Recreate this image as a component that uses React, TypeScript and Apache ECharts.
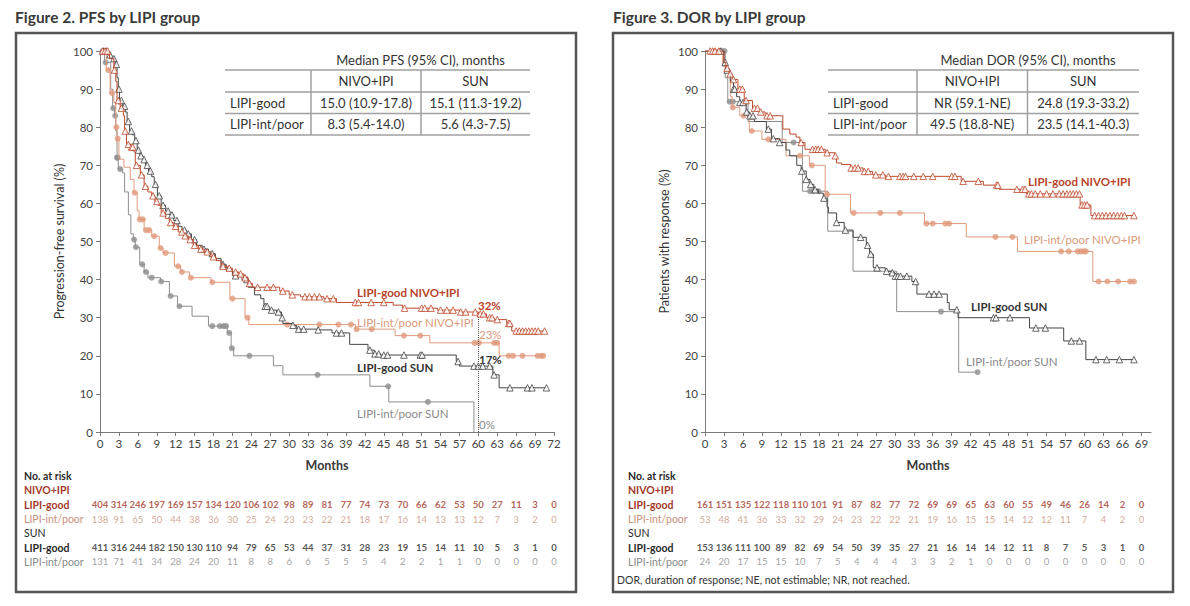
import React, { useEffect, useRef } from "react";
import * as echarts from "echarts";

const FONT = 'Lato, "Noto Sans", sans-serif';
const RED = "#bd4a2d";
const SALMON = "#e09a7c";
const DARK = "#454545";
const GRAY = "#8e8e8e";

// ---------- Figure 2: PFS ----------
const pfsMonths = [0, 3, 6, 9, 12, 15, 18, 21, 24, 27, 30, 33, 36, 39, 42, 45, 48, 51, 54, 57, 60, 63, 66, 69, 72];

const pfsGoodNivo: number[][] = [
  [0, 100], [1.5, 98], [2.2, 95], [2.5, 92], [2.7, 87], [3.2, 85], [3.7, 83], [3.9, 79], [4.2, 75.5], [4.9, 74.8],
  [5.4, 73.5], [5.6, 70], [6.4, 67.5], [7, 64.5], [7.6, 63], [8.2, 62], [8.7, 60.5], [9.2, 59.5], [9.7, 57.5],
  [10.4, 56], [11, 55], [11.6, 54], [12.4, 52.5], [13.2, 51.5], [14, 50.5], [14.8, 49], [15.6, 48], [16.6, 47.3],
  [17.6, 46], [18.4, 45], [19.2, 43.5], [20.2, 43], [21, 42], [22, 41.5], [22.8, 40.5], [23.5, 39], [24.2, 38],
  [28.5, 37], [30, 36], [31.8, 35.5], [35.5, 35], [37.5, 34], [46.5, 33.3], [48, 32.5], [53.5, 32], [57, 31.5],
  [60, 31], [61.3, 30], [62.5, 29.5], [64.5, 28.5], [65.3, 26.5], [70.5, 26.5],
];
const pfsGoodNivoCens = [
  0.4, 0.8, 1.2, 2.3, 2.9, 3.4, 4.0, 4.5, 5.0, 5.2, 5.8, 6.6, 7.2, 8.4, 9.0, 10.0, 11.2, 12.0, 13.0, 13.5, 14.3,
  15.0, 16.0, 17.0, 18.0, 19.5, 20.5, 21.5, 22.3, 23.0, 23.7, 25.0, 26.5, 27.5, 29.0, 30.5, 32.5, 33.2, 34.0, 34.8,
  36.0, 37.0, 40.5, 41.0, 43.0, 45.0, 48.3, 51.0, 51.5, 52.5, 54.0, 55.0, 56.0, 57.2, 58.0, 59.5, 60.3, 60.8, 61.8,
  62.2, 63.0, 64.8, 65.0, 66.0, 66.5, 67.0, 67.5, 68.0, 68.5, 69.0, 69.5, 70.5,
];

const pfsGoodSun: number[][] = [
  [0, 100], [1.2, 99], [1.8, 98], [2.4, 96.5], [2.7, 93], [2.9, 90], [3.1, 87], [3.6, 85.5], [4, 84], [4.3, 81.5],
  [4.7, 79], [5.1, 78], [5.5, 76.5], [5.9, 74], [6.3, 72.5], [6.8, 71.5], [7.2, 70], [7.7, 68.5], [8.2, 67], [8.6, 65],
  [9.1, 62], [9.7, 59.5], [10.4, 58], [11, 57], [11.7, 55.5], [12.4, 54], [13, 53], [13.7, 52], [14.5, 50.5],
  [15.3, 49], [16.2, 48], [17.2, 46.8], [18.3, 45.5], [19.2, 44], [20, 42.5], [21, 41], [22.5, 40], [23.5, 38],
  [24.5, 36], [25.5, 35], [26, 33], [26.8, 32], [28, 31.5], [28.8, 30], [29, 28.5], [30.5, 28], [31.2, 27],
  [34.5, 26.8], [36.8, 26], [39.6, 23], [42.5, 21.5], [43.5, 20.5], [44.5, 20.2], [56.5, 18.5], [57, 17.3],
  [62.3, 15], [63.3, 11.6], [70.8, 11.6],
];
const pfsGoodSunCens = [
  0.5, 1.0, 1.6, 2.2, 2.6, 3.0, 3.4, 3.9, 4.5, 5.0, 5.7, 6.1, 6.5, 7.0, 7.5, 8.0, 8.8, 9.4, 10.0, 10.8, 11.4, 12.2,
  13.4, 14.0, 15.0, 16.5, 17.8, 19.5, 21.5, 23.3, 26.2, 26.5, 27.2, 28.3, 28.9, 30.6, 31.5, 32.3, 34.6, 37.5, 38.3,
  42.8, 43.6, 44.2, 45.0, 45.6, 48.2, 50.8, 51.1, 56.8, 59.3, 60.0, 60.7, 61.8, 62.5, 65.0, 67.8, 68.5, 70.8,
];

const pfsPoorNivo: number[][] = [
  [0, 100], [1, 95], [1.6, 89], [2.2, 86.5], [2.5, 80], [2.7, 77], [3, 71.6], [3.8, 69.5], [4.8, 66.3], [5.4, 62.8],
  [5.9, 58], [6.2, 55.8], [7, 53], [8.2, 51.4], [9.4, 48.3], [10, 47], [11.8, 43.5], [12.8, 42], [14.2, 40.5],
  [17.6, 39.3], [20.6, 35], [23, 30], [23.6, 28.2], [40.5, 27], [46.8, 25.3], [52.3, 23.4], [63.3, 20], [70.3, 20],
];
const pfsPoorNivoCens = [
  0.6, 1.3, 1.9, 2.6, 2.8, 5.5, 6.3, 6.8, 7.3, 7.8, 8.6, 9.6, 10.4, 12.4, 13.0, 14.4, 17.8, 21.0, 23.4, 29.7, 34.8,
  37.8, 39.8, 40.7, 43.1, 48.2, 50.8, 59.4, 60.1, 62.5, 63.0, 64.8, 65.5, 67.0, 69.4, 70.0, 70.3,
];

const pfsPoorSun: number[][] = [
  [0, 100], [0.7, 97], [1.7, 90], [2, 85], [2.3, 83], [2.5, 79], [2.7, 72], [2.9, 69], [3.6, 68], [3.9, 63],
  [4.5, 57], [4.9, 52], [5.3, 50.5], [5.6, 48.5], [6.3, 44], [7, 42], [7.6, 40.5], [9.6, 39.5], [11, 35.7],
  [12.3, 33], [14.6, 30.4], [17.2, 27.8], [20.2, 26], [20.8, 22], [21.2, 20], [27.5, 17.4], [29, 15], [42.8, 12],
  [45.8, 7.9], [59.3, 0],
];
const pfsPoorSunCens = [
  0.4, 0.9, 2.1, 2.4, 2.7, 2.8, 3.2, 5.4, 5.7, 6.7, 7.3, 8.2, 9.7, 11.2, 12.6, 17.8, 19.0, 19.6, 20.0, 20.5, 20.9,
  23.7, 34.5, 45.7, 52.0,
];

const pfsLandmark = [60, 31.5];

const pfsRiskGoodNivo = [404, 314, 246, 197, 169, 157, 134, 120, 106, 102, 98, 89, 81, 77, 74, 73, 70, 66, 62, 53, 50, 27, 11, 3, 0];
const pfsRiskPoorNivo = [138, 91, 65, 50, 44, 38, 36, 30, 25, 24, 23, 23, 22, 21, 18, 17, 16, 14, 13, 13, 12, 7, 3, 2, 0];
const pfsRiskGoodSun = [411, 316, 244, 182, 150, 130, 110, 94, 79, 65, 53, 44, 37, 31, 28, 23, 19, 15, 14, 11, 10, 5, 3, 1, 0];
const pfsRiskPoorSun = [131, 71, 41, 34, 28, 24, 20, 11, 8, 8, 6, 6, 5, 5, 5, 4, 2, 2, 1, 1, 0, 0, 0, 0, 0];

const pfsTableHead = ["Median PFS (95% CI), months", "NIVO+IPI", "SUN"];
const pfsTableRows = [
  ["LIPI-good", "15.0 (10.9-17.8)", "15.1 (11.3-19.2)"],
  ["LIPI-int/poor", "8.3 (5.4-14.0)", "5.6 (4.3-7.5)"],
];

// ---------- Figure 3: DOR ----------
const dorMonths = [0, 3, 6, 9, 12, 15, 18, 21, 24, 27, 30, 33, 36, 39, 42, 45, 48, 51, 54, 57, 60, 63, 66, 69];

const dorGoodNivo: number[][] = [
  [0, 100], [3, 97], [3.3, 95.5], [3.8, 94], [4.3, 92.5], [5.2, 90], [6.2, 87], [7.5, 85], [8.5, 84], [9.5, 83],
  [12.3, 79.5], [13.4, 78.2], [14.4, 77.4], [15, 76], [15.8, 74.2], [19, 73.3], [20.5, 72.5], [20.8, 70.6],
  [21.6, 70.2], [23, 69.3], [25, 68.4], [26.5, 67.5], [28.5, 67.1], [40.5, 65.8], [44, 64.8], [46.5, 63.7],
  [50.8, 62.5], [59.3, 59.6], [61, 56.8], [67.8, 56.8],
];
const dorGoodNivoCens = [
  0.8, 1.2, 1.6, 2.2, 3.5, 4.0, 4.5, 5.5, 5.9, 6.5, 7.8, 8.3, 8.8, 9.8, 10.3, 15.2, 17.0, 17.5, 17.9, 18.4, 19.3,
  20.6, 23.1, 23.7, 24.2, 25.2, 25.8, 27.0, 28.1, 29.0, 30.8, 31.3, 31.7, 33.0, 34.5, 36.0, 39.0, 39.5, 40.8, 43.2,
  46.1, 46.3, 49.3, 50.2, 50.6, 51.2, 51.6, 52.2, 53.0, 54.0, 55.0, 56.0, 56.6, 57.2, 57.7, 58.2, 58.7, 59.2, 59.6,
  60.0, 60.4, 61.6, 62.2, 62.8, 63.4, 64.0, 64.6, 65.2, 65.8, 66.3, 67.8,
];

const dorPoorNivo: number[][] = [
  [0, 100], [2.8, 96], [3.2, 94.5], [4, 88], [4.3, 85.2], [5.5, 83], [7, 79], [9, 76.8], [12.8, 72.5], [16.5, 70],
  [19, 62.4], [23, 57.5], [34.7, 54.7], [41.3, 51.2], [49.4, 47.4], [61.3, 39.5], [67.9, 39.5],
];
const dorPoorNivoCens = [
  1.5, 4.4, 6.1, 7.4, 10.0, 15.0, 16.9, 19.3, 23.5, 27.7, 30.8, 35.0, 36.0, 38.0, 38.6, 45.9, 48.6, 56.3, 57.5,
  58.9, 59.4, 59.9, 60.2, 62.2, 63.6, 65.3, 67.2, 67.8,
];

const dorGoodSun: number[][] = [
  [0, 100], [3, 97], [3.3, 95], [4, 92], [4.5, 90], [5, 88], [5.5, 86.5], [6.5, 84], [7, 83], [7.8, 81.5],
  [9.7, 79.5], [10.5, 77], [11.8, 76], [12.8, 74], [13.4, 72.5], [14.5, 70], [15.2, 68.5], [16, 66.3], [16.6, 65],
  [17.2, 63.6], [17.9, 62.7], [18.7, 61.4], [19.3, 59], [19.5, 57.5], [20.8, 55], [22, 53], [23.4, 51.1],
  [25.5, 49], [26, 46.7], [26.6, 43.1], [28.5, 42.2], [29.5, 41.8], [30, 40.9], [32.7, 39.5], [33.5, 36.2],
  [38.3, 34], [38.6, 32.1], [40, 30], [51.3, 27.3], [56.7, 23.9], [60.2, 19], [68, 19],
];
const dorGoodSunCens = [
  2.5, 3.2, 3.5, 4.5, 4.7, 5.5, 6.0, 6.6, 7.1, 7.6, 10.0, 10.8, 11.8, 15.3, 16.0, 16.7, 17.4, 18.8, 20.8, 22.2,
  24.6, 25.7, 26.2, 27.2, 28.7, 29.6, 30.1, 30.5, 30.9, 31.9, 33.3, 35.4, 36.2, 37.0, 39.8, 45.6, 46.0, 48.2, 52.3,
  53.8, 57.9, 59.2, 61.8, 63.5, 65.5, 67.8,
];

const dorPoorSun: number[][] = [
  [0, 100], [3.2, 93], [3.6, 86.7], [6.8, 81.5], [12.2, 76], [15.4, 63.2], [19.4, 52.7], [23.4, 42.2],
  [30.3, 31.6], [40.1, 15.7], [43.1, 15.7],
];
const dorPoorSunCens = [2.3, 2.7, 3.1, 3.9, 4.4, 14.0, 16.6, 17.1, 17.9, 37.3, 43.1];

const dorRiskGoodNivo = [161, 151, 135, 122, 118, 110, 101, 91, 87, 82, 77, 72, 69, 69, 65, 63, 60, 55, 49, 46, 26, 14, 2, 0];
const dorRiskPoorNivo = [53, 48, 41, 36, 33, 32, 29, 24, 23, 22, 22, 21, 19, 16, 15, 15, 14, 12, 12, 11, 7, 4, 2, 0];
const dorRiskGoodSun = [153, 136, 111, 100, 89, 82, 69, 54, 50, 39, 35, 27, 21, 16, 14, 14, 12, 11, 8, 7, 5, 3, 1, 0];
const dorRiskPoorSun = [24, 20, 17, 15, 15, 10, 7, 5, 4, 4, 4, 3, 3, 2, 1, 0, 0, 0, 0, 0, 0, 0, 0, 0];

const dorTableHead = ["Median DOR (95% CI), months", "NIVO+IPI", "SUN"];
const dorTableRows = [
  ["LIPI-good", "NR (59.1-NE)", "24.8 (19.3-33.2)"],
  ["LIPI-int/poor", "49.5 (18.8-NE)", "23.5 (14.1-40.3)"],
];

const riskRowLabels = ["No. at risk", "NIVO+IPI", "LIPI-good", "LIPI-int/poor", "SUN", "LIPI-good", "LIPI-int/poor"];
const riskRowStyle = [
  { color: "#2a2a2a", fontWeight: "bold" },
  { color: "#a23a2b", fontWeight: "bold" },
  { color: "#a23a2b", fontWeight: "bold" },
  { color: "#c9927c", fontWeight: "normal" },
  { color: "#2a2a2a", fontWeight: "normal" },
  { color: "#2a2a2a", fontWeight: "bold" },
  { color: "#8a8a8a", fontWeight: "normal" },
];

function stepValue(curve: number[][], t: number) {
  let v = curve[0][1];
  for (const p of curve) {
    if (p[0] <= t) v = p[1];
    else break;
  }
  return v;
}

function kmSeries(ax: number, curve: number[][], cens: number[], color: string, marker: string, z: number, extra: any = {}) {
  const line: any = {
    type: "line",
    xAxisIndex: ax,
    yAxisIndex: ax,
    data: curve,
    step: "end",
    showSymbol: false,
    symbol: "none",
    silent: true,
    z,
    lineStyle: { color, width: 1 },
    ...extra,
  };
  const sc: any = {
    type: "scatter",
    xAxisIndex: ax,
    yAxisIndex: ax,
    silent: true,
    z: z + 0.5,
    data: cens.map((t) => [t, stepValue(curve, t)]),
    symbol: marker === "tri" ? "triangle" : "circle",
    symbolSize: marker === "tri" ? 6.5 : 6,
    itemStyle:
      marker === "tri"
        ? { color: "#ffffff", borderColor: color, borderWidth: 1 }
        : { color, borderWidth: 0 },
  };
  return [line, sc];
}

function riskSeries(ax: number, months: number[], values: number[], row: number) {
  const st = riskRowStyle[row];
  return {
    type: "scatter",
    xAxisIndex: ax,
    yAxisIndex: ax,
    silent: true,
    symbolSize: 1,
    itemStyle: { color: "rgba(0,0,0,0)" },
    data: months.map((m, i) => [m, row, values[i]]),
    label: {
      show: true,
      position: "inside",
      formatter: (p: any) => String(p.value[2]),
      color: st.color,
      fontWeight: st.fontWeight,
      fontSize: 9.5,
      fontFamily: FONT,
    },
  };
}

const axisLabelStyle = { color: "#444", fontSize: 11.5, fontFamily: FONT };
const axisLineStyle = { lineStyle: { color: "#7a7a7a", width: 1 } };

function mainX(gridIndex: number, max: number, ticks: number[]) {
  return {
    gridIndex,
    type: "value",
    min: 0,
    max,
    axisLine: { show: true, ...axisLineStyle },
    axisTick: { show: true, length: 4, customValues: ticks, ...axisLineStyle },
    axisLabel: { ...axisLabelStyle, margin: 5, customValues: ticks },
    splitLine: { show: false },
    name: "Months",
    nameLocation: "middle",
    nameGap: 27,
    nameTextStyle: { color: "#3a3a3a", fontSize: 12.5, fontWeight: "bold", fontFamily: FONT },
  };
}

function mainY(gridIndex: number, name: string) {
  return {
    gridIndex,
    type: "value",
    min: 0,
    max: 100,
    interval: 10,
    axisLine: { show: true, ...axisLineStyle },
    axisTick: { show: true, length: 4, ...axisLineStyle },
    axisLabel: { ...axisLabelStyle, margin: 7 },
    splitLine: { show: false },
    name,
    nameLocation: "middle",
    nameRotate: 90,
    nameGap: 34,
    nameTextStyle: { color: "#333", fontSize: 12.5, fontFamily: FONT },
  };
}

function riskX(gridIndex: number, max: number) {
  return { gridIndex, type: "value", min: 0, max, show: false };
}

function riskY(gridIndex: number, margin: number) {
  const rich: any = {};
  riskRowStyle.forEach((s, i) => {
    rich["r" + i] = { color: s.color, fontWeight: s.fontWeight, fontSize: 10.5, fontFamily: FONT };
  });
  return {
    gridIndex,
    type: "category",
    inverse: true,
    data: riskRowLabels.map((_, i) => "row" + i),
    axisLine: { show: false },
    axisTick: { show: false },
    splitLine: { show: false },
    axisLabel: {
      interval: 0,
      align: "left",
      margin,
      formatter: (_v: string, i: number) => `{r${i}|${riskRowLabels[i]}}`,
      rich,
    },
  };
}

function tableGraphic(x1: number, c1: number, c2: number, x2: number, head: string[], rows: string[][]) {
  const lineStyle = { stroke: "#a0a0a0", lineWidth: 1.5 };
  const ys = [70, 92, 113.5, 135];
  const els: any[] = [];
  ys.forEach((y) => els.push({ type: "line", shape: { x1, y1: y, x2, y2: y }, style: lineStyle }));
  [c1, c2].forEach((x) => els.push({ type: "line", shape: { x1: x, y1: 70, x2: x, y2: 135 }, style: lineStyle }));
  const txt = (text: string, x: number, y: number, align = "center", size = 13) => ({
    type: "text",
    x,
    y,
    style: { text, fill: "#333", fontSize: size, fontFamily: FONT, align, verticalAlign: "middle" },
  });
  els.push(txt(head[0], (c1 + x2) / 2, 59.5));
  els.push(txt(head[1], (c1 + c2) / 2, 81));
  els.push(txt(head[2], (c2 + x2) / 2, 81));
  rows.forEach((r, i) => {
    const y = 102.5 + i * 21.5;
    els.push(txt(r[0], x1 + 5, y, "left"));
    els.push(txt(r[1], (c1 + c2) / 2, y));
    els.push(txt(r[2], (c2 + x2) / 2, y));
  });
  return els;
}

function label(text: string, x: number, y: number, fill: string, bold = false) {
  return {
    type: "text",
    x,
    y,
    style: {
      text,
      fill,
      fontSize: 11.5,
      fontWeight: bold ? "bold" : "normal",
      fontFamily: FONT,
      align: "left",
      verticalAlign: "middle",
    },
  };
}

export default function App() {
  const ref = useRef<HTMLDivElement>(null);
  useEffect(() => {
    if (!ref.current) return;
    const chart = echarts.init(ref.current, null, { renderer: "svg" });
    const series: any[] = [
      ...kmSeries(0, pfsPoorSun, pfsPoorSunCens, GRAY, "dot", 2),
      ...kmSeries(0, pfsPoorNivo, pfsPoorNivoCens, SALMON, "dot", 3),
      ...kmSeries(0, pfsGoodSun, pfsGoodSunCens, DARK, "tri", 4),
      ...kmSeries(0, pfsGoodNivo, pfsGoodNivoCens, RED, "tri", 5, {
        markLine: {
          silent: true,
          symbol: ["none", "none"],
          label: { show: false },
          lineStyle: { type: "dotted", color: "#555", width: 1 },
          data: [[{ coord: [pfsLandmark[0], 0] }, { coord: [pfsLandmark[0], pfsLandmark[1]] }]],
        },
      }),
      ...kmSeries(1, dorPoorSun, dorPoorSunCens, GRAY, "dot", 2),
      ...kmSeries(1, dorPoorNivo, dorPoorNivoCens, SALMON, "dot", 3),
      ...kmSeries(1, dorGoodSun, dorGoodSunCens, DARK, "tri", 4),
      ...kmSeries(1, dorGoodNivo, dorGoodNivoCens, RED, "tri", 5),
      riskSeries(2, pfsMonths, pfsRiskGoodNivo, 2),
      riskSeries(2, pfsMonths, pfsRiskPoorNivo, 3),
      riskSeries(2, pfsMonths, pfsRiskGoodSun, 5),
      riskSeries(2, pfsMonths, pfsRiskPoorSun, 6),
      riskSeries(3, dorMonths, dorRiskGoodNivo, 2),
      riskSeries(3, dorMonths, dorRiskPoorNivo, 3),
      riskSeries(3, dorMonths, dorRiskGoodSun, 5),
      riskSeries(3, dorMonths, dorRiskPoorSun, 6),
    ];

    const graphics: any[] = [
      { type: "rect", shape: { x: 16, y: 33, width: 560, height: 559 }, style: { fill: "none", stroke: "#555", lineWidth: 2.5 } },
      { type: "rect", shape: { x: 613, y: 33, width: 560, height: 559 }, style: { fill: "none", stroke: "#555", lineWidth: 2.5 } },
      {
        type: "text", x: 15, y: 17,
        style: { text: "Figure 2. PFS by LIPI group", fill: "#3a3a3a", fontSize: 15.5, fontWeight: "bold", fontFamily: FONT, verticalAlign: "middle" },
      },
      {
        type: "text", x: 613, y: 17,
        style: { text: "Figure 3. DOR by LIPI group", fill: "#3a3a3a", fontSize: 15.5, fontWeight: "bold", fontFamily: FONT, verticalAlign: "middle" },
      },
      ...tableGraphic(225, 311, 421, 530, pfsTableHead, pfsTableRows),
      ...tableGraphic(828, 917, 1027.5, 1139, dorTableHead, dorTableRows),
      label("LIPI-good NIVO+IPI", 357, 292, "#b8452b", true),
      label("32%", 478, 305, "#b8452b", true),
      label("LIPI-int/poor NIVO+IPI", 357, 322, "#dc9a7c"),
      label("23%", 479, 334, "#dc9a7c"),
      label("17%", 479, 359, "#333", true),
      label("LIPI-good SUN", 357, 367, "#333", true),
      label("LIPI-int/poor SUN", 357, 413, "#8a8a8a"),
      label("0%", 479, 424, "#8a8a8a"),
      label("LIPI-good NIVO+IPI", 1028, 181, "#b8452b", true),
      label("LIPI-int/poor NIVO+IPI", 1024, 239, "#dc9a7c"),
      label("LIPI-good SUN", 971, 306, "#333", true),
      label("LIPI-int/poor SUN", 966, 361, "#8a8a8a"),
      {
        type: "text", x: 617, y: 579.5,
        style: { text: "DOR, duration of response; NE, not estimable; NR, not reached.", fill: "#333", fontSize: 10.5, fontFamily: FONT, verticalAlign: "middle" },
      },
    ];

    chart.setOption({
      animation: false,
      backgroundColor: "#ffffff",
      textStyle: { fontFamily: FONT },
      grid: [
        { left: 100, top: 51, width: 454, height: 381 },
        { left: 705, top: 51, width: 446, height: 381 },
        { left: 100, top: 469, width: 454, height: 100 },
        { left: 705, top: 469, width: 446, height: 100 },
      ],
      xAxis: [mainX(0, 72, pfsMonths), mainX(1, 70.5, dorMonths), riskX(2, 72), riskX(3, 70.5)],
      yAxis: [mainY(0, "Progression-free survival (%)"), mainY(1, "Patients with response (%)"), riskY(2, 76), riskY(3, 77)],
      series,
      graphic: { elements: graphics },
    });
    return () => chart.dispose();
  }, []);
  return <div ref={ref} style={{ position: "absolute", left: 0, top: 0, width: 1190, height: 606, background: "#fff" }} />;
}
